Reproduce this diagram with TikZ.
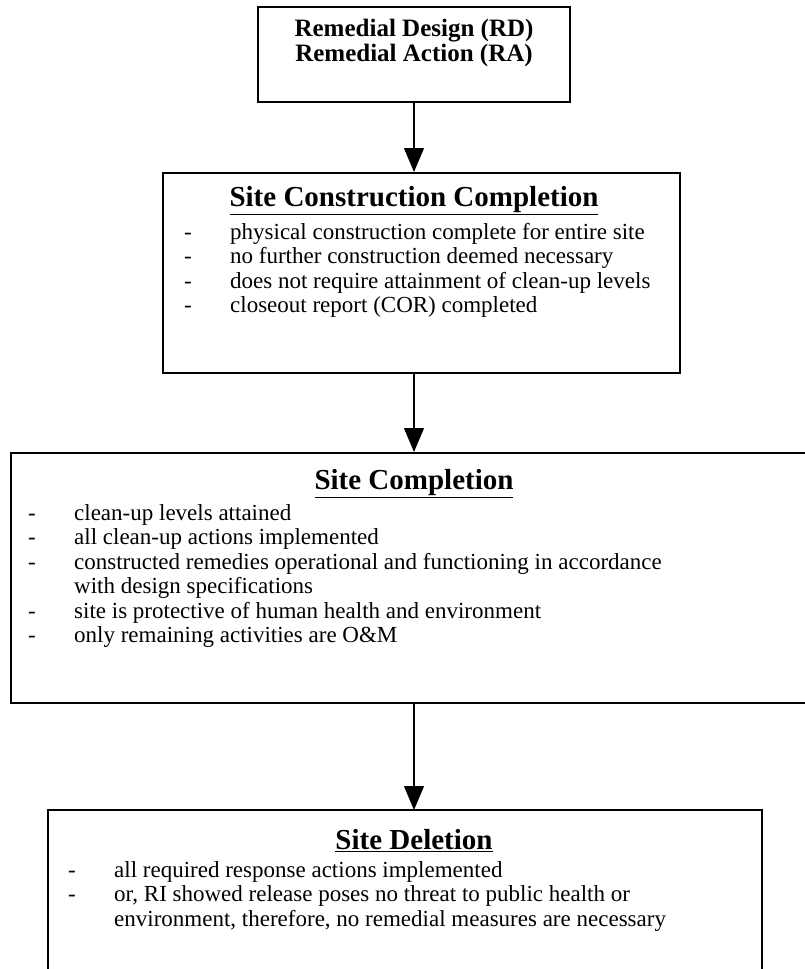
\documentclass[tikz,border=0pt]{standalone}
\usepackage{fontspec}
\setmainfont{Liberation Serif}
\usetikzlibrary{arrows.meta, positioning}

\tikzset{
  stagebox/.style={draw, line width=2pt, inner sep=0pt},
  stagetitle/.style={font=\fontsize{29}{32}\selectfont\bfseries, inner sep=0pt},
  itemlist/.style={font=\fontsize{23}{24.5}\selectfont, align=left, inner sep=0pt, anchor=north west},
  flow/.style={-{Triangle[width=20pt,length=24pt]}, line width=1.2pt}
}
\newcommand{\stagelist}[1]{\begin{tabular}{@{}p{46pt}@{}l@{}}#1\end{tabular}}

\begin{document}
\begin{tikzpicture}[x=1pt, y=-1pt]
        \useasboundingbox (0,0) rectangle (804,969);

        % RD / RA
        \node[stagebox, minimum width=312pt, minimum height=95pt] (rdra) at (414,54.5) {};
        \node[font=\fontsize{25}{25}\selectfont\bfseries, align=center, inner sep=0pt] (rdratext) at (414,43) {Remedial Design (RD)\\Remedial Action (RA)};

        % Site Construction Completion
        \node[stagebox, minimum width=517pt, minimum height=200pt] (scc) at (421.5,273) {};
        \node[stagetitle] (scctitle) at (414,201) {\underline{Site Construction Completion}};
        \node[itemlist] (scclist) at (184,222) {\stagelist{
            - & physical construction complete for entire site\\
            - & no further construction deemed necessary\\
            - & does not require attainment of clean-up levels\\
            - & closeout report (COR) completed}};

        % Site Completion
        \node[stagebox, minimum width=800pt, minimum height=250pt] (sc) at (411,578) {};
        \node[stagetitle] (sctitle) at (414,484) {\underline{Site Completion}};
        \node[itemlist] (sclist) at (28,503) {\stagelist{
            - & clean-up levels attained\\
            - & all clean-up actions implemented\\
            - & constructed remedies operational and functioning in accordance\\
              & with design specifications\\
            - & site is protective of human health and environment\\
            - & only remaining activities are O\&M}};

        % Site Deletion (box runs off the page)
        \coordinate (sdnw) at (48,810);
        \coordinate (sdne) at (762,810);
        \draw[line width=2pt] (sdnw |- 0,975) -- (sdnw) -- (sdne) -- (sdne |- 0,975);
        \node[stagetitle] (sdtitle) at (414,841) {\underline{Site Deletion}};
        \node[itemlist] (sdlist) at (68,860) {\stagelist{
            - & all required response actions implemented\\
            - & or, RI showed release poses no threat to public health or\\
              & environment, therefore, no remedial measures are necessary}};

        % Arrows
        \draw[flow] (rdra.south -| scctitle) -- (scc.north -| scctitle);
        \draw[flow] (scc.south -| scctitle) -- (sc.north -| scctitle);
        \draw[flow] (sc.south -| scctitle) -- (sdnw -| scctitle);
    \end{tikzpicture}
\end{document}
